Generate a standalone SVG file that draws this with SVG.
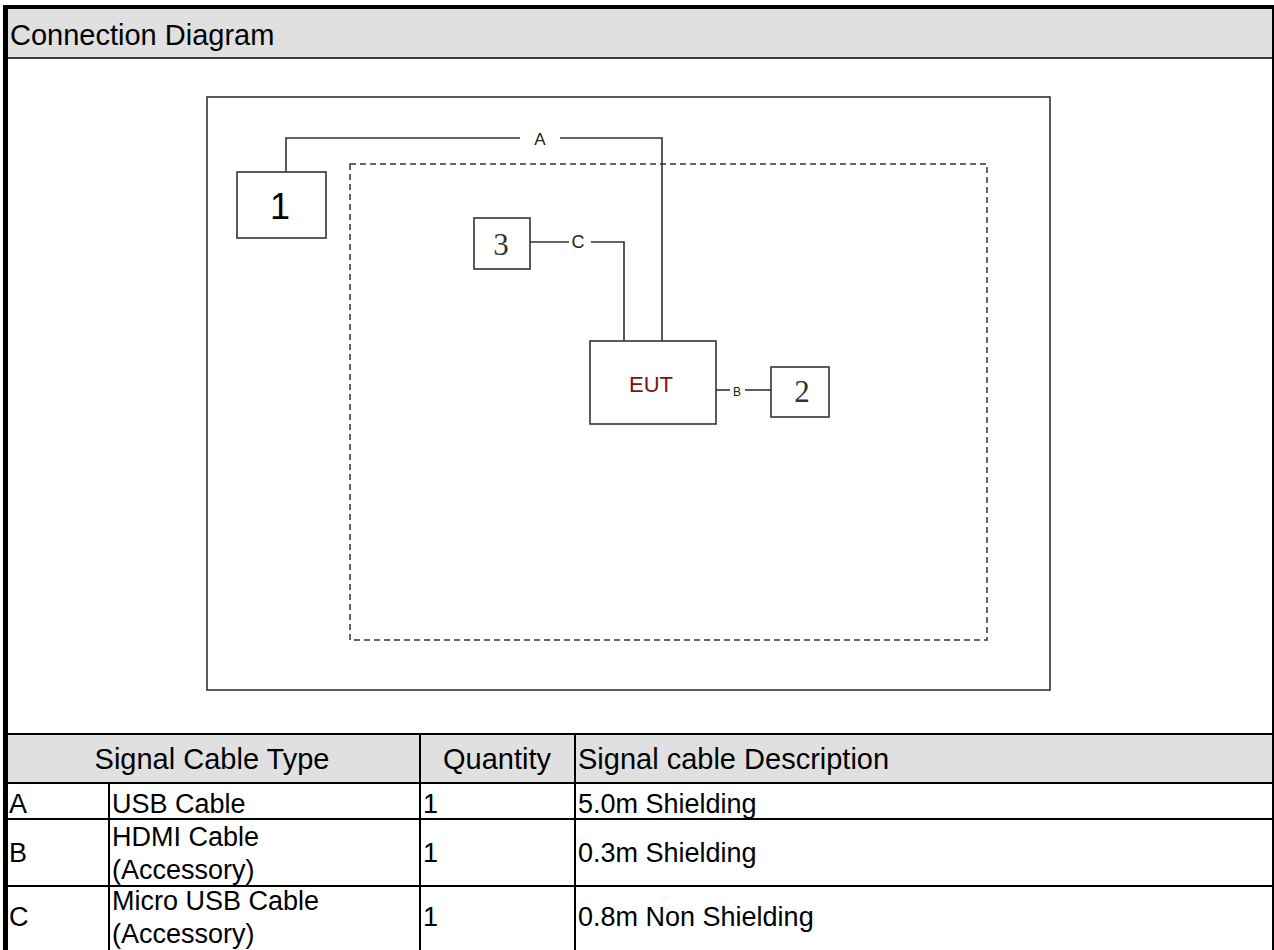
<svg xmlns="http://www.w3.org/2000/svg" width="1274" height="950" viewBox="0 0 1274 950">
<style>
.t{font-family:"Liberation Sans",Arial,sans-serif;fill:#000}
.hd{font-size:29px}
.td{font-size:27px}
.ln{stroke:#333;stroke-width:1.6;fill:none}
.bx{stroke:#333;stroke-width:1.6;fill:#fff}
.grid{stroke:#000;stroke-width:2;fill:none}
.lbl{font-family:"Liberation Sans",Arial,sans-serif;fill:#222;text-anchor:middle}
.num{font-family:"Liberation Serif","Times New Roman",serif;fill:#333;text-anchor:middle}
</style>
<rect x="0" y="0" width="1274" height="950" fill="#fff"/>
<!-- header band -->
<rect x="8" y="9" width="1264" height="49" fill="#e0e0e0"/>
<line x1="8" y1="58" x2="1272" y2="58" stroke="#000" stroke-width="1.5"/>
<text class="t hd" x="10" y="45">Connection Diagram</text>

<!-- frames -->
<g id="frame">
<rect x="207" y="97" width="843" height="593" class="ln"/>
<rect x="350" y="164" width="637" height="476" fill="none" stroke="#333" stroke-width="1.5" stroke-dasharray="6,4"/>
</g>

<g id="connectors">
<polyline class="ln" points="286,172 286,138 520,138"/>
<polyline class="ln" points="560,138 662,138 662,341"/>
<text class="lbl" x="540" y="145" font-size="17">A</text>
<polyline class="ln" points="530,242 569,242"/>
<polyline class="ln" points="591,242 624,242 624,341"/>
<text class="lbl" x="578" y="248" font-size="18">C</text>
<polyline class="ln" points="716,390 730,390"/>
<polyline class="ln" points="745,390 771,390"/>
<text class="lbl" x="737" y="396" font-size="12">B</text>
</g>

<g id="node-1">
<rect x="237" y="172" width="89" height="66" class="bx"/>
<text class="t" x="280" y="219" font-size="36" text-anchor="middle">1</text>
</g>
<g id="node-3">
<rect x="474" y="218" width="56" height="51" class="bx"/>
<text class="num" x="501" y="255" font-size="31">3</text>
</g>
<g id="node-eut">
<rect x="590" y="341" width="126" height="83" class="bx"/>
<text x="651" y="392" font-family="Liberation Sans,Arial,sans-serif" font-size="22" fill="#7a1414" text-anchor="middle">EUT</text>
</g>
<g id="node-2">
<rect x="771" y="367" width="58" height="50" class="bx"/>
<text class="num" x="802" y="402" font-size="31">2</text>
</g>

<!-- table -->
<g id="table">
<rect x="8" y="734" width="1264" height="49" fill="#e0e0e0"/>
<line class="grid" x1="8" y1="734" x2="1272" y2="734"/>
<line class="grid" x1="8" y1="783" x2="1272" y2="783"/>
<line class="grid" x1="8" y1="819" x2="1272" y2="819"/>
<line class="grid" x1="8" y1="886" x2="1272" y2="886"/>
<line class="grid" x1="109" y1="783" x2="109" y2="950"/>
<line class="grid" x1="420" y1="734" x2="420" y2="950"/>
<line class="grid" x1="575" y1="734" x2="575" y2="950"/>
<text class="t hd" x="212" y="769" text-anchor="middle">Signal Cable Type</text>
<text class="t hd" x="497" y="769" text-anchor="middle">Quantity</text>
<text class="t hd" x="578" y="769">Signal cable Description</text>

<text class="t td" x="9" y="813">A</text>
<text class="t td" x="112" y="813">USB Cable</text>
<text class="t td" x="423" y="813">1</text>
<text class="t td" x="578" y="813">5.0m Shielding</text>

<text class="t td" x="9" y="862">B</text>
<text class="t td" x="112" y="846">HDMI Cable</text>
<text class="t td" x="112" y="879">(Accessory)</text>
<text class="t td" x="423" y="862">1</text>
<text class="t td" x="578" y="862">0.3m Shielding</text>

<text class="t td" x="9" y="926">C</text>
<text class="t td" x="112" y="910">Micro USB Cable</text>
<text class="t td" x="112" y="943">(Accessory)</text>
<text class="t td" x="423" y="926">1</text>
<text class="t td" x="578" y="926">0.8m Non Shielding</text>
</g>

<!-- outer border -->
<rect x="3" y="5" width="5" height="945" fill="#000"/>
<rect x="3" y="5" width="1271" height="4" fill="#000"/>
<rect x="1272" y="5" width="2" height="945" fill="#000"/>
</svg>
